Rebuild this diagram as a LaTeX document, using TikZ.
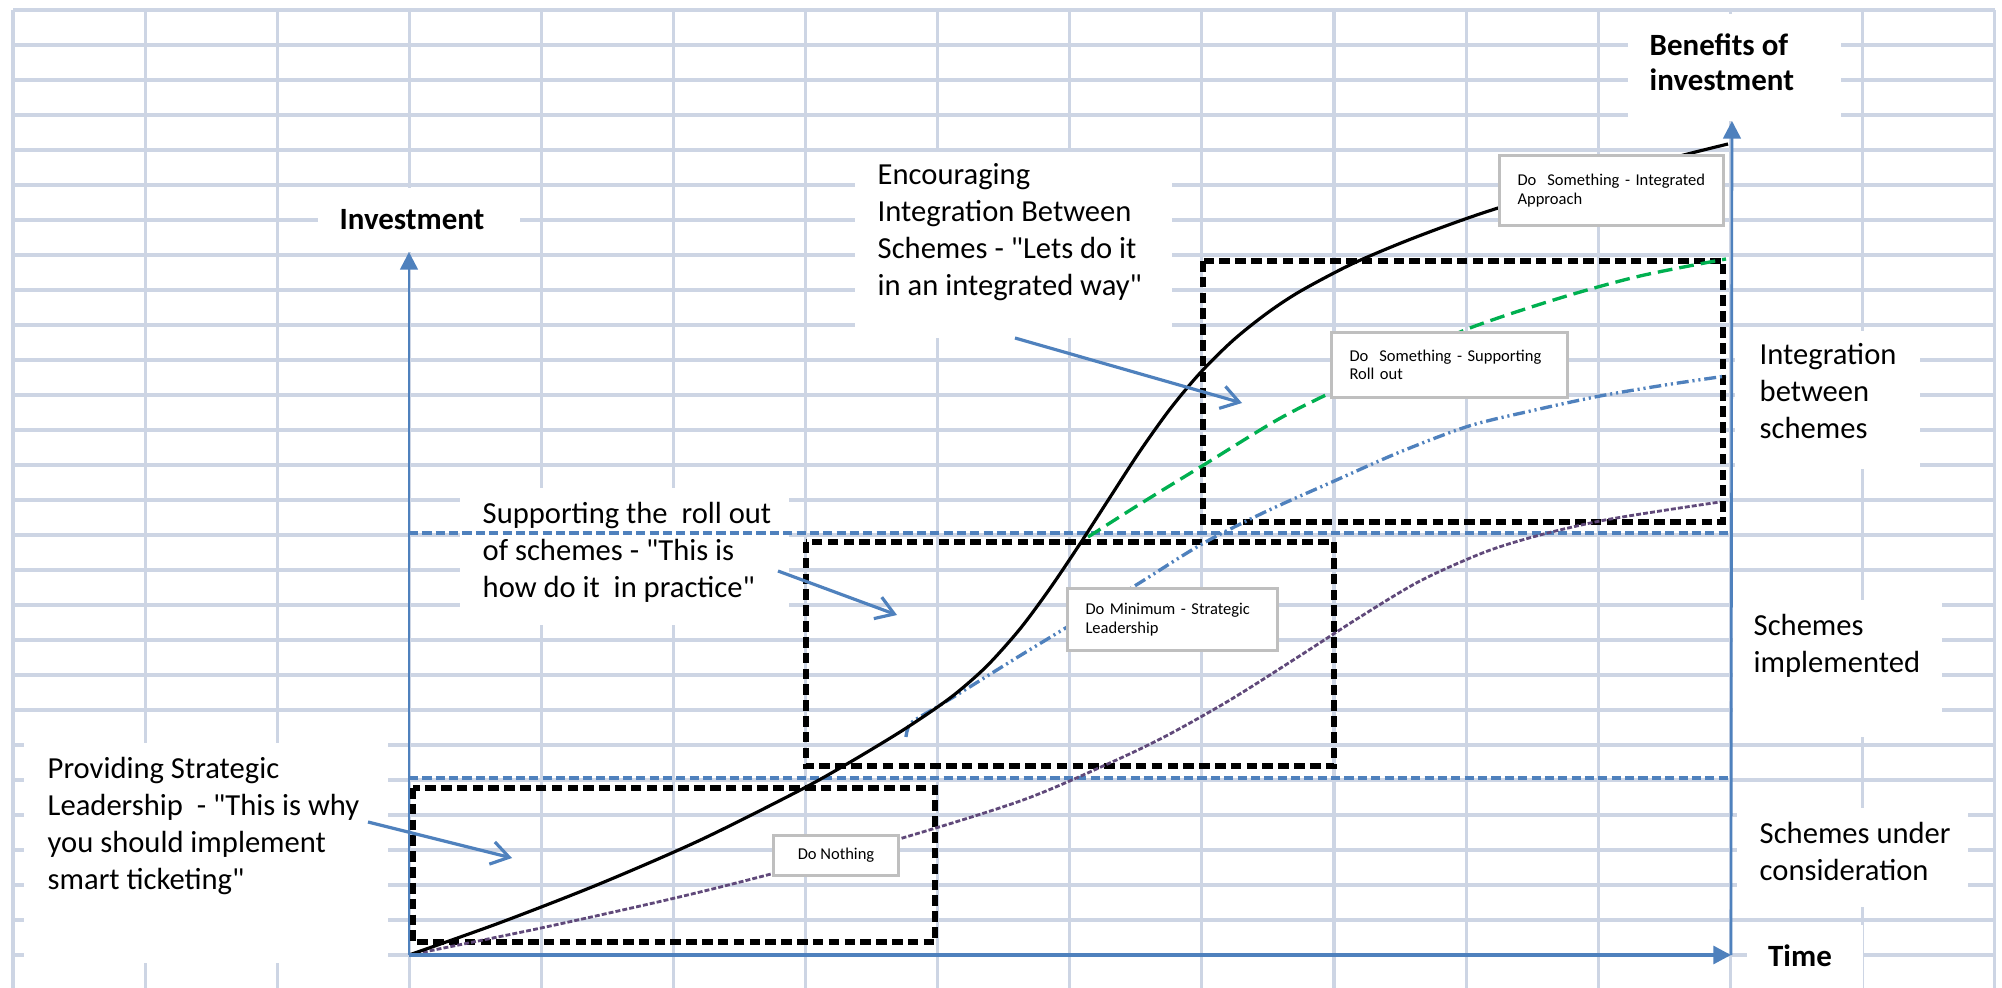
\documentclass[tikz,border=0pt]{standalone}
\usepackage{fontspec}
\setmainfont{Carlito}
\usetikzlibrary{arrows.meta}

\definecolor{gridline}{RGB}{205,213,228}
\definecolor{axisblue}{RGB}{79,129,189}
\definecolor{rollgreen}{RGB}{0,176,80}
\definecolor{nothingpurple}{RGB}{96,73,122}
\definecolor{calloutgray}{RGB}{191,191,191}

\newcommand{\qt}{\textquotedbl}

\tikzset{
  gridrule/.style={gridline, line width=0.9pt},
  axisarrow/.style={axisblue, line width=0.75pt, -{Triangle[length=5pt,width=5pt]}},
  levelline/.style={axisblue, line width=1pt, dash pattern=on 2.6pt off 1.2pt},
  phasebox/.style={black, line width=1.6pt, dash pattern=on 3pt off 1.5pt},
  notearrow/.style={axisblue, line width=0.9pt, -{Straight Barb[length=5pt,width=6.5pt]}},
  curveint/.style={black, line width=0.9pt},
  curvesup/.style={rollgreen, line width=0.95pt, dash pattern=on 4.2pt off 2pt},
  curvemin/.style={axisblue, line width=0.95pt, dash pattern=on 3.4pt off 1.1pt on 0.6pt off 1.1pt on 0.6pt off 1.1pt},
  curvenot/.style={nothingpurple, line width=0.8pt, dash pattern=on 1.4pt off 0.6pt},
  notetext/.style={font=\fontsize{8.7}{10.5}\selectfont, align=left, inner sep=0pt, anchor=north west, execute at begin node=\strut},
  axistext/.style={font=\fontsize{8.8}{10}\selectfont\bfseries, align=left, inner sep=0pt},
  calloutbox/.style={draw=calloutgray, line width=0.85pt, fill=white, font=\fontsize{4.7}{5.2}\selectfont, align=left, inner xsep=0.18cm, inner ysep=0pt, anchor=north west},
}

\begin{document}
\begin{tikzpicture}[x=0.01cm,y=-0.01cm]
\useasboundingbox (0,0) rectangle (2002,988);
\fill[white] (0,0) rectangle (2002,988);

% spreadsheet grid
\foreach \c in {0,...,15}
  \draw[gridrule] ({13+132.1*\c},10) -- ({13+132.1*\c},988);
\foreach \r in {0,...,27}
  \draw[gridrule] (13,{10+35*\r}) -- (1995,{10+35*\r});

% white panels behind the labels
\fill[white] (24,743) rectangle (388,963);
\fill[white] (460,488) rectangle (789,625);
\fill[white] (855,152) rectangle (1172,338);
\fill[white] (318,188) rectangle (520,252);
\fill[white] (1628,14) rectangle (1841,121);
\fill[white] (1735,331) rectangle (1920,469);
\fill[white] (1733,600) rectangle (1942,737);
\fill[white] (1737,808) rectangle (1968,907);
\fill[white] (1747,925) rectangle (1863,990);

% stage levels
\coordinate (implA) at (409,533); \coordinate (implB) at (1731,533);
\coordinate (consA) at (409,778); \coordinate (consB) at (1731,778);
\draw[levelline] (implA) -- (implB);
\draw[levelline] (consA) -- (consB);

% phases
\draw[phasebox] (413,788) rectangle (935,942);
\draw[phasebox] (806,542) rectangle (1334,766);
\draw[phasebox] (1203,261) rectangle (1723,522);

% options
\draw[curvenot] plot[smooth] coordinates {(409,955) (541,928) (675,898) (771,874) (899,839) (1023,800) (1112,762) (1166,736) (1230,700) (1298,657) (1360,617) (1420,581) (1485,552) (1540,535) (1600,521) (1660,511) (1720,502)};
\draw[curvemin] plot[smooth] coordinates {(906,737) (911,723) (937,707) (960,693) (1013,660) (1059,632) (1133,587) (1202,544) (1265,512) (1332,482) (1400,452) (1469,426) (1535,410) (1600,396) (1665,385) (1726,376)};
\draw[curvesup] plot[smooth] coordinates {(1088,537) (1140,504) (1202,466) (1277,420) (1330,393) (1400,360) (1470,328) (1560,298) (1640,276) (1726,259)};
\draw[curveint] plot[smooth] coordinates {(409,955) (500,922.7) (600,883.7) (700,840.2) (800,790.2) (850,762.2) (900,732) (937,707.4) (960,690.1) (988,664.9) (1020,628.9) (1050,588.4) (1080,543.8) (1110,497.3) (1140,451.1) (1170,409.1) (1200,373.1) (1233,340.4) (1267,313.2) (1300,291.4) (1350,264.9) (1400,243.4) (1450,224.4) (1500,207.4) (1600,177.4) (1681,155.7) (1728,144)};

% callouts
\node[calloutbox, anchor=center, align=center, minimum width=1.25cm, minimum height=0.39cm] (donothing) at (836,855.5) {Do Nothing};
\node[calloutbox, text width=1.74cm, minimum height=0.62cm] (dominimum) at (1066,587) {Do Minimum - Strategic\\Leadership};
\node[calloutbox, text width=2.0cm, minimum height=0.65cm] (dosupport) at (1330,331) {Do~~Something - Supporting\\Roll out};
\node[calloutbox, text width=1.88cm, minimum height=0.7cm] (dointegrate) at (1498,154) {Do~~Something - Integrated\\Approach};

% axes
\coordinate (origin) at (409,955);
\coordinate (invtop) at (409,252);
\coordinate (timeend) at (1731,955);
\coordinate (bentop) at (1732,121);
\draw[axisarrow] (origin) -- (invtop);
\draw[axisarrow, line width=1.1pt] (origin) -- (timeend);
\draw[axisarrow] (timeend) -- (bentop);

\node[axistext] (investlabel) at (412,220) {Investment};
\node[axistext] (timelabel) at (1800,956) {Time};
\node[axistext, anchor=north west, execute at begin node=\strut] (benefitlabel) at (1649,33) {Benefits of\\investment};

% stage labels
\node[notetext] (integlabel) at (1759,343) {Integration\\between\\schemes};
\node[notetext] (implabel) at (1753,614) {Schemes\\implemented};
\node[notetext] (considlabel) at (1759,822) {Schemes under\\consideration};

% notes
\node[notetext] (leadnote) at (47,757) {Providing Strategic\\Leadership~ - \qt This is why\\you should implement\\smart ticketing\qt};
\node[notetext] (rollnote) at (482,502) {Supporting the~ roll out\\of schemes - \qt This is\\how do it~ in practice\qt};
\node[notetext] (integnote) at (877,163) {Encouraging\\Integration Between\\Schemes - \qt Lets do it\\in an integrated way\qt};

\coordinate (leadtail) at (368,822); \coordinate (leadhead) at (512,858);
\coordinate (rolltail) at (778,571); \coordinate (rollhead) at (897,615);
\coordinate (integtail) at (1015,338); \coordinate (integhead) at (1242,403);
\draw[notearrow] (leadtail) -- (leadhead);
\draw[notearrow] (rolltail) -- (rollhead);
\draw[notearrow] (integtail) -- (integhead);
\end{tikzpicture}
\end{document}
